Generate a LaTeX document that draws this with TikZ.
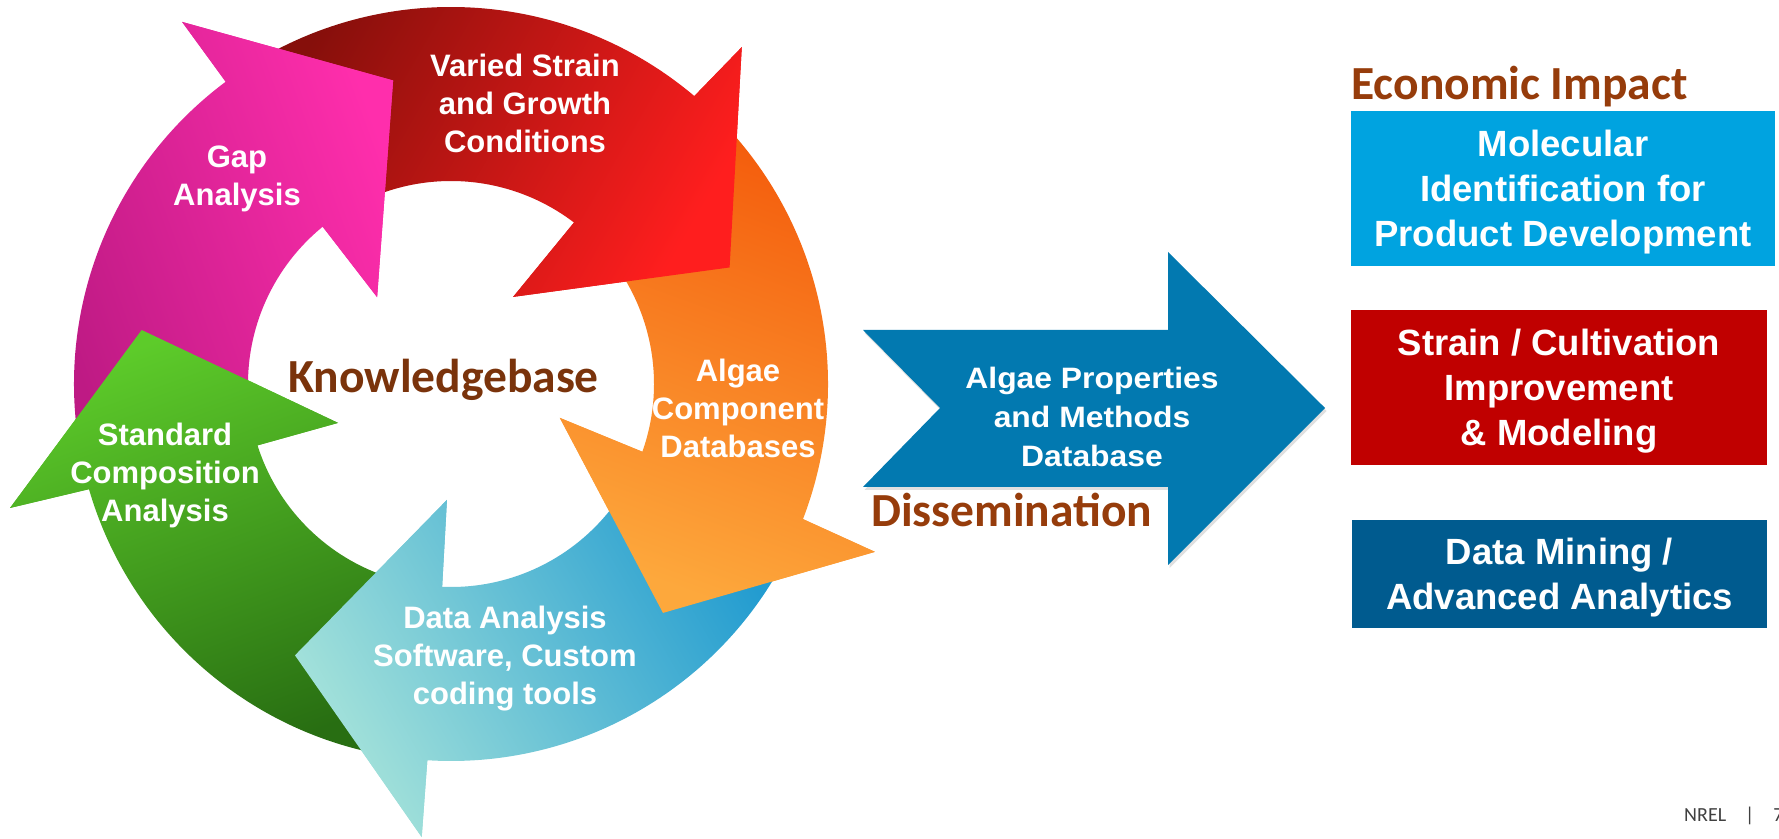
\documentclass[tikz,border=0pt]{standalone}
\usepackage{fontspec}
\setmainfont{Liberation Sans}
\newfontfamily\ringfont{Liberation Sans}
\newfontfamily\arrowfont[FakeStretch=1.08]{Liberation Sans}
\newfontfamily\boxfont{Liberation Sans}
\newfontfamily\calfont{Carlito}
\usetikzlibrary{shadows}

\definecolor{rdark}{HTML}{860F0B}
\definecolor{rbright}{HTML}{FF1E1E}
\definecolor{odark}{HTML}{F45C0C}
\definecolor{olight}{HTML}{FDA83C}
\definecolor{tdeep}{HTML}{239CD0}
\definecolor{tpale}{HTML}{A4E2DA}
\definecolor{gbright}{HTML}{5DCB2A}
\definecolor{gdark}{HTML}{286E12}
\definecolor{mbright}{HTML}{FF2EAC}
\definecolor{mdark}{HTML}{BE1A84}
\definecolor{arrowblue}{HTML}{0279B0}
\definecolor{boxcyan}{HTML}{00A3E0}
\definecolor{boxred}{HTML}{C00000}
\definecolor{boxnavy}{HTML}{005B8F}
\definecolor{brownA}{HTML}{963C0B}
\definecolor{brownK}{HTML}{7A330B}
\definecolor{footgray}{HTML}{404040}

% strut for the impact boxes: height 36pt, depth 9pt (line pitch 45pt)
\newcommand\bstrut{\rule[-9pt]{0pt}{45pt}}

% ring arrow: tail angle, outer base angle, outer flank (angle, radius),
% tip (angle, radius), inner flank (angle, radius), inner base angle
\newcommand\ringbody[9]{%
  \shade[cur] (#1:377pt) arc[start angle=#1,end angle=#2,radius=377pt]
    -- (#3:#4pt) -- (#5:#6pt) -- (#7:#8pt) -- (#9:203pt)
    arc[start angle=#9,end angle=#1,radius=203pt] -- cycle;}
\newcommand\ringhead[9]{%
  \begin{scope}
    \clip (#2:377pt) -- (#3:#4pt) -- (#5:#6pt) -- (#7:#8pt) -- (#9:203pt) -- cycle;
    \ringbody{#1}{#2}{#3}{#4}{#5}{#6}{#7}{#8}{#9}
  \end{scope}}
\def\redP{{121}{49.8}{49.2}{445}{22.7}{302}{54.5}{107}{52.7}}
\def\orgP{{45}{-21}{-21.6}{456}{-47.2}{312}{-17.3}{114}{-19.5}}
\def\tealP{{333}{266.4}{266.3}{454}{240.1}{313}{268}{116}{267.5}}
\def\grnP{{261}{196.2}{195.7}{458}{170.1}{314}{199}{119.5}{197.6}}
\def\magP{{191}{126.7}{126.6}{451}{100.8}{309}{130.4}{114}{129.2}}

\begin{document}
\begin{tikzpicture}[x=1pt,y=1pt,
  redA/.style={top color=rdark,bottom color=rbright,shading angle=60},
  orgA/.style={top color=odark,bottom color=olight,shading angle=-20},
  tealA/.style={top color=tdeep,bottom color=tpale,shading angle=-60},
  grnA/.style={top color=gbright,bottom color=gdark,shading angle=20},
  magA/.style={top color=mbright,bottom color=mdark,shading angle=-70},
  ringlabel/.style={text=white,font=\ringfont\bfseries\fontsize{31}{38}\selectfont,
    align=center,inner sep=0pt},
  titlelabel/.style={anchor=base west,inner sep=0pt,
    font=\calfont\bfseries\fontsize{47.5}{56}\selectfont,text=brownA},
  impactbox/.style={inner sep=0pt,text=white,align=center,
    font=\boxfont\bfseries\fontsize{36.5}{45}\selectfont}]
\useasboundingbox (0,0) rectangle (1779,838);
\fill[white] (0,0) rectangle (1779,838);

% ---------- ring of arrows ----------
\begin{scope}[shift={(451,454)}]
  \tikzset{cur/.style={redA}}\expandafter\ringbody\redP
  \tikzset{cur/.style={orgA}}\expandafter\ringbody\orgP
  \tikzset{cur/.style={tealA}}\expandafter\ringbody\tealP
  \tikzset{cur/.style={grnA}}\expandafter\ringbody\grnP
  \tikzset{cur/.style={magA}}\expandafter\ringbody\magP
  \tikzset{cur/.style={redA}}\expandafter\ringhead\redP
  \tikzset{cur/.style={orgA}}\expandafter\ringhead\orgP
  \tikzset{cur/.style={tealA}}\expandafter\ringhead\tealP
  \tikzset{cur/.style={grnA}}\expandafter\ringhead\grnP
  \tikzset{cur/.style={magA}}\expandafter\ringhead\magP
\end{scope}

\node[ringlabel] (varied) at (525,730.6) {\strut Varied Strain\\\strut and Growth\\\strut Conditions};
\node[ringlabel] (gap) at (237,659.1) {\strut Gap\\\strut Analysis};
\node[ringlabel] (algae) at (738,426.1) {\strut Algae\\\strut Component\\\strut Databases};
\node[ringlabel] (standard) at (165,362.1) {\strut Standard\\\strut Composition\\\strut Analysis};
\node[ringlabel] (dataan) at (505,179.6) {\strut Data Analysis\\\strut Software, Custom\\\strut coding tools};

\node[titlelabel,text=brownK] (kb) at (288,445) {Knowledgebase};

% ---------- dissemination arrow ----------
\fill[arrowblue,drop shadow={shadow xshift=1.5pt,shadow yshift=-3pt,opacity=0.12,fill=black}]
  (863,508) -- (940,430) -- (863,351) -- (1168,351) -- (1168,273)
  -- (1325,430) -- (1168,586) -- (1168,508) -- cycle;
\node[text=white,align=center,inner sep=0pt,
  font=\arrowfont\bfseries\fontsize{29.5}{39}\selectfont] (apm) at (1092,417.8)
  {\strut Algae Properties\\\strut and Methods\\\strut Database};
\node[titlelabel] (diss) at (871,311) {Dissemination};

% ---------- economic impact ----------
\node[titlelabel] (econ) at (1351,738) {Economic Impact};
\node[impactbox,fill=boxcyan,minimum width=424pt,minimum height=155pt] (mol) at (1563,649.5)
  {\bstrut Molecular\\\bstrut Identification for\\\bstrut Product Development};
\node[impactbox,fill=boxred,minimum width=416pt,minimum height=155pt] (strain) at (1559,450.5)
  {\bstrut Strain / Cultivation\\\bstrut Improvement\\\bstrut \& Modeling};
\node[impactbox,fill=boxnavy,minimum width=415pt,minimum height=108pt] (mining) at (1559.5,264)
  {\bstrut Data Mining /\\\bstrut Advanced Analytics};

% ---------- footer ----------
\node[anchor=base west,inner sep=0pt,text=footgray,font=\calfont\fontsize{20}{24}\selectfont]
  (footer) at (1684,17) {NREL\hspace{19pt}|\hspace{19pt}7};
\end{tikzpicture}
\end{document}
